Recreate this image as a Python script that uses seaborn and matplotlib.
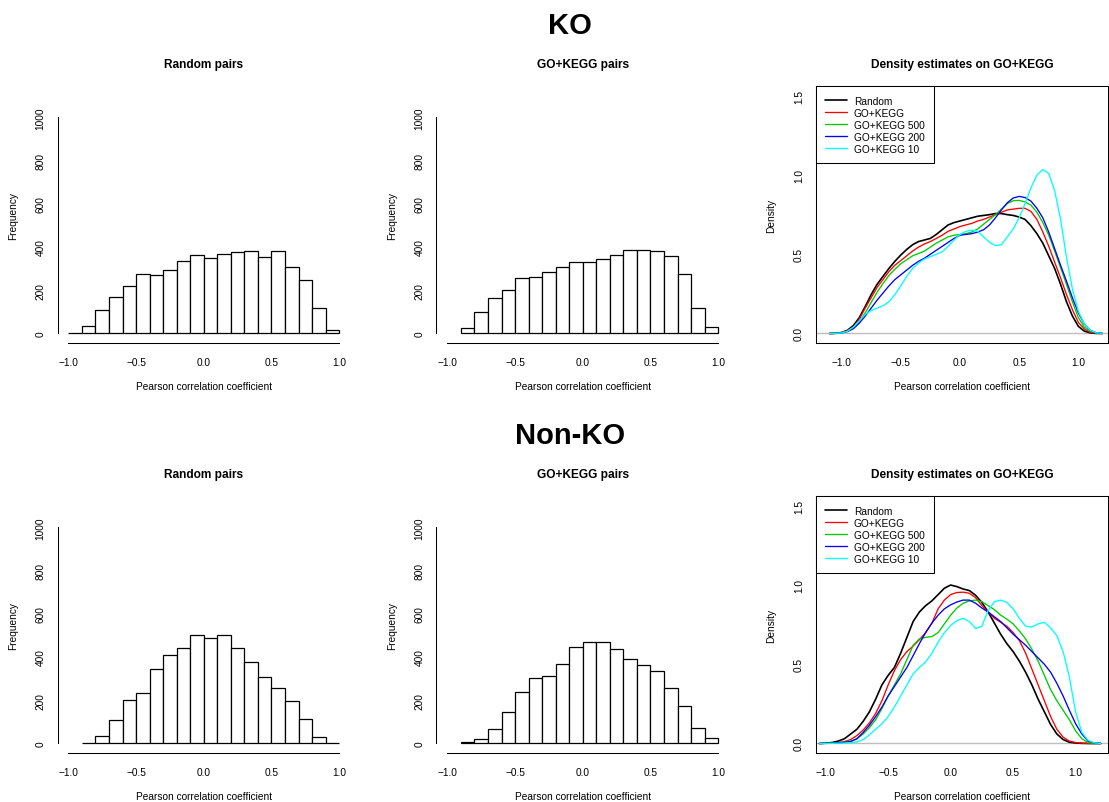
import matplotlib
matplotlib.use("Agg")
import matplotlib.pyplot as plt
import seaborn as sns

# ---------------- data ----------------
ROW_TITLES = ["KO", "Non-KO"]
HIST_TITLES = ["Random pairs", "GO+KEGG pairs"]
DENS_TITLE = "Density estimates on GO+KEGG"
X_LABEL = "Pearson correlation coefficient"

X_TICKS = [-1.0, -0.5, 0.0, 0.5, 1.0]
X_TICK_LABELS = ["\u22121.0", "\u22120.5", "0.0", "0.5", "1.0"]
HIST_Y_TICKS = [0, 200, 400, 600, 800, 1000]
HIST_Y_LABELS = ["0", "200", "400", "600", "800", "1000"]
DENS_Y_TICKS = [0.0, 0.5, 1.0, 1.5]
DENS_Y_LABELS = ["0.0", "0.5", "1.0", "1.5"]

breaks_ko_random = [-1.0, -0.9, -0.8, -0.7, -0.6, -0.5, -0.4, -0.3, -0.2, -0.1, 0.0,
                    0.1, 0.2, 0.3, 0.4, 0.5, 0.6, 0.7, 0.8, 0.9, 1.0]
counts_ko_random = [2, 36, 107, 168, 221, 274, 272, 294, 337, 362, 351, 369, 376, 383,
                    355, 380, 306, 246, 120, 14]

breaks_ko_gk = [-0.9, -0.8, -0.7, -0.6, -0.5, -0.4, -0.3, -0.2, -0.1, 0.0,
                0.1, 0.2, 0.3, 0.4, 0.5, 0.6, 0.7, 0.8, 0.9, 1.0]
counts_ko_gk = [26, 101, 163, 199, 255, 260, 285, 308, 330, 331, 347, 365, 386, 386,
                381, 359, 275, 117, 31]

breaks_nko_random = [-0.9, -0.8, -0.7, -0.6, -0.5, -0.4, -0.3, -0.2, -0.1, 0.0,
                     0.1, 0.2, 0.3, 0.4, 0.5, 0.6, 0.7, 0.8, 0.9, 1.0]
counts_nko_random = [3, 36, 109, 200, 234, 343, 408, 441, 503, 488, 500, 444, 379, 307,
                     256, 196, 115, 28, 1]

breaks_nko_gk = [-0.9, -0.8, -0.7, -0.6, -0.5, -0.4, -0.3, -0.2, -0.1, 0.0,
                 0.1, 0.2, 0.3, 0.4, 0.5, 0.6, 0.7, 0.8, 0.9, 1.0]
counts_nko_gk = [5, 23, 68, 144, 238, 303, 311, 366, 447, 469, 469, 436, 393, 363,
                 335, 258, 172, 70, 25]

SERIES = ["Random", "GO+KEGG", "GO+KEGG 500", "GO+KEGG 200", "GO+KEGG 10"]

x_ko = [-1.10, -1.05, -1.00, -0.95, -0.90, -0.85, -0.80, -0.75, -0.70, -0.65, -0.60,
        -0.55, -0.50, -0.45, -0.40, -0.35, -0.30, -0.25, -0.20, -0.15, -0.10, -0.05,
        0.00, 0.05, 0.10, 0.15, 0.20, 0.25, 0.30, 0.35, 0.40, 0.45, 0.50, 0.55, 0.60,
        0.65, 0.70, 0.75, 0.80, 0.85, 0.90, 0.95, 1.00, 1.05, 1.10, 1.15, 1.20]
ko_random = [0.000, 0.001, 0.006, 0.02, 0.05, 0.10, 0.17, 0.245, 0.31, 0.36, 0.41,
             0.455, 0.495, 0.53, 0.56, 0.58, 0.59, 0.60, 0.625, 0.655, 0.685, 0.70,
             0.71, 0.72, 0.73, 0.74, 0.745, 0.75, 0.757, 0.757, 0.75, 0.745, 0.735,
             0.72, 0.68, 0.63, 0.57, 0.49, 0.41, 0.31, 0.20, 0.11, 0.045, 0.015,
             0.004, 0.001, 0.000]
ko_gk = [0.000, 0.001, 0.005, 0.017, 0.04, 0.09, 0.16, 0.225, 0.29, 0.34, 0.39,
         0.43, 0.46, 0.49, 0.52, 0.545, 0.565, 0.58, 0.60, 0.62, 0.645, 0.66,
         0.675, 0.685, 0.695, 0.71, 0.72, 0.735, 0.75, 0.765, 0.78, 0.785, 0.79,
         0.79, 0.77, 0.72, 0.64, 0.55, 0.45, 0.35, 0.245, 0.15, 0.07, 0.028,
         0.008, 0.002, 0.000]
ko_gk500 = [0.000, 0.001, 0.004, 0.014, 0.035, 0.075, 0.13, 0.195, 0.26, 0.315, 0.366,
            0.405, 0.44, 0.465, 0.49, 0.505, 0.52, 0.545, 0.57, 0.59, 0.61, 0.62,
            0.625, 0.63, 0.64, 0.66, 0.69, 0.72, 0.75, 0.785, 0.82, 0.838, 0.84,
            0.83, 0.81, 0.765, 0.70, 0.62, 0.52, 0.415, 0.31, 0.20, 0.10, 0.04,
            0.015, 0.004, 0.000]
ko_gk200 = [0.000, 0.001, 0.003, 0.012, 0.03, 0.065, 0.11, 0.16, 0.21, 0.255, 0.30,
            0.34, 0.37, 0.40, 0.43, 0.455, 0.475, 0.50, 0.525, 0.55, 0.575, 0.60,
            0.62, 0.625, 0.63, 0.64, 0.655, 0.685, 0.73, 0.78, 0.825, 0.855, 0.865,
            0.858, 0.835, 0.79, 0.73, 0.64, 0.535, 0.43, 0.33, 0.225, 0.13, 0.06,
            0.02, 0.005, 0.000]
ko_gk10 = [0.000, 0.001, 0.003, 0.014, 0.04, 0.08, 0.12, 0.145, 0.16, 0.175, 0.20,
           0.245, 0.30, 0.36, 0.41, 0.445, 0.47, 0.485, 0.50, 0.515, 0.55, 0.59,
           0.625, 0.645, 0.652, 0.645, 0.61, 0.575, 0.555, 0.56, 0.61, 0.66, 0.73,
           0.82, 0.92, 1.00, 1.035, 1.01, 0.90, 0.72, 0.48, 0.28, 0.14, 0.06,
           0.02, 0.005, 0.000]

x_nko = [-1.05, -1.00, -0.95, -0.90, -0.85, -0.80, -0.75, -0.70, -0.65, -0.60, -0.55,
         -0.50, -0.45, -0.40, -0.35, -0.30, -0.25, -0.20, -0.15, -0.10, -0.05,
         0.00, 0.05, 0.10, 0.15, 0.20, 0.25, 0.30, 0.35, 0.40, 0.45, 0.50, 0.55, 0.60,
         0.65, 0.70, 0.75, 0.80, 0.85, 0.90, 0.95, 1.00, 1.05, 1.10, 1.15, 1.20]
nko_random = [0.000, 0.002, 0.006, 0.015, 0.03, 0.06, 0.09, 0.14, 0.20, 0.28, 0.37,
              0.43, 0.48, 0.57, 0.67, 0.77, 0.83, 0.87, 0.90, 0.94, 0.98,
              1.00, 0.99, 0.975, 0.965, 0.935, 0.89, 0.83, 0.76, 0.69, 0.63, 0.58,
              0.52, 0.45, 0.37, 0.28, 0.20, 0.12, 0.06, 0.025, 0.008, 0.003, 0.001,
              0.000, 0.000, 0.000]
nko_gk = [0.000, 0.001, 0.003, 0.006, 0.012, 0.025, 0.05, 0.085, 0.13, 0.19, 0.27,
          0.37, 0.46, 0.53, 0.58, 0.615, 0.655, 0.70, 0.76, 0.85, 0.905,
          0.94, 0.953, 0.955, 0.948, 0.92, 0.87, 0.83, 0.79, 0.765, 0.74, 0.70,
          0.65, 0.57, 0.47, 0.37, 0.27, 0.17, 0.09, 0.04, 0.015, 0.006, 0.002,
          0.001, 0.000, 0.000]
nko_gk500 = [0.000, 0.001, 0.002, 0.004, 0.008, 0.015, 0.03, 0.06, 0.10, 0.15, 0.22,
             0.30, 0.37, 0.44, 0.53, 0.62, 0.66, 0.67, 0.675, 0.70, 0.755,
             0.81, 0.855, 0.885, 0.90, 0.905, 0.895, 0.87, 0.845, 0.81, 0.785, 0.755,
             0.71, 0.66, 0.595, 0.52, 0.43, 0.34, 0.27, 0.21, 0.15, 0.08, 0.03,
             0.006, 0.001, 0.000]
nko_gk200 = [0.000, 0.001, 0.002, 0.004, 0.007, 0.012, 0.03, 0.07, 0.115, 0.17, 0.23,
             0.30, 0.36, 0.42, 0.48, 0.555, 0.63, 0.70, 0.76, 0.81, 0.85,
             0.875, 0.893, 0.905, 0.905, 0.885, 0.855, 0.83, 0.80, 0.77, 0.73, 0.69,
             0.655, 0.62, 0.58, 0.54, 0.50, 0.45, 0.38, 0.30, 0.21, 0.125, 0.06,
             0.015, 0.004, 0.000]
nko_gk10 = [0.000, 0.000, 0.001, 0.002, 0.003, 0.005, 0.01, 0.025, 0.055, 0.09, 0.125,
            0.17, 0.23, 0.30, 0.37, 0.44, 0.48, 0.515, 0.57, 0.64, 0.70,
            0.745, 0.775, 0.79, 0.77, 0.725, 0.74, 0.84, 0.895, 0.905, 0.89, 0.85,
            0.79, 0.74, 0.735, 0.755, 0.765, 0.73, 0.68, 0.58, 0.42, 0.20, 0.07,
            0.02, 0.004, 0.000]

COLORS = ["black", "#FF0000", "#00CD00", "#0000FF", "#00FFFF"]
WIDTHS = [1.2, 0.95, 0.95, 0.95, 0.95]

# ---------------- style ----------------
sns.set_style("white")
plt.rcParams["font.family"] = ["Liberation Sans", "DejaVu Sans"]
plt.rcParams["axes.unicode_minus"] = True
plt.rcParams["text.color"] = "black"
plt.rcParams["axes.labelcolor"] = "black"
plt.rcParams["xtick.color"] = "black"
plt.rcParams["ytick.color"] = "black"

W, H = 1109, 803
fig = plt.figure(figsize=(W / 100, H / 100), dpi=100)

FS = 7.3
COL_LEFT = [57.5, 436.5, 815.7]
PW, PH = 292.5, 256.7
ROW_TOP = [87.3, 497.3]


def make_ax(col, row):
    l = COL_LEFT[col] / W
    b = 1 - (ROW_TOP[row] + PH) / H
    return fig.add_axes([l, b, PW / W, PH / H])


def common(ax, ylabel):
    ax.tick_params(direction="out", length=4, width=0.75, labelsize=FS,
                   colors="black", labelcolor="black")
    ax.tick_params(axis="x", pad=6.0)
    ax.tick_params(axis="y", pad=4.5)
    ax.set_xticks(X_TICKS)
    ax.set_xticklabels(X_TICK_LABELS)
    ax.set_xlabel(X_LABEL, fontsize=FS, color="black")
    ax.xaxis.set_label_coords(0.5, (ROW_TOP[0] + PH - 387) / PH)
    ax.xaxis.label.set_va("center")
    ax.set_ylabel(ylabel, fontsize=FS, color="black")
    ax.yaxis.set_label_coords((13.3 - 57.5) / PW, 0.5)
    ax.yaxis.label.set_va("center")
    for s in ax.spines.values():
        s.set_linewidth(0.75)
        s.set_color("black")


def draw_hist(ax, breaks, counts):
    mids = [(a + b) / 2 for a, b in zip(breaks[:-1], breaks[1:])]
    sns.histplot(x=mids, weights=counts, bins=breaks, ax=ax, color="white",
                 edgecolor="black", linewidth=0.9, alpha=1.0)
    ax.set_xlim(-1.08, 1.08)
    ax.set_ylim(-44, 1144)
    ax.spines["top"].set_visible(False)
    ax.spines["right"].set_visible(False)
    common(ax, "Frequency")
    ax.spines["left"].set_bounds(0, 1000)
    ax.spines["bottom"].set_bounds(-1, 1)
    ax.set_yticks(HIST_Y_TICKS)
    ax.set_yticklabels(HIST_Y_LABELS, rotation=90, va="center")


def draw_density(ax, xgrid, curves, xlim):
    ax.axhline(0, color="#BEBEBE", lw=1.0, zorder=1)
    for name, vals, color, lw in zip(SERIES, curves, COLORS, WIDTHS):
        sns.lineplot(x=xgrid, y=vals, ax=ax, color=color, linewidth=lw, label=name)
    ax.set_xlim(*xlim)
    ax.set_ylim(-0.06, 1.56)
    common(ax, "Density")
    ax.set_yticks(DENS_Y_TICKS)
    ax.set_yticklabels(DENS_Y_LABELS, rotation=90, va="center")
    leg = ax.legend(loc="upper left", bbox_to_anchor=(0, 1), borderaxespad=0,
                    frameon=True, fancybox=False, edgecolor="black", framealpha=1,
                    fontsize=FS, handlelength=2.16, handletextpad=0.66,
                    borderpad=0.95, labelspacing=0.19)
    leg.get_frame().set_linewidth(0.75)
    for t in leg.get_texts():
        t.set_color("black")


rows = [
    (breaks_ko_random, counts_ko_random, breaks_ko_gk, counts_ko_gk,
     x_ko, [ko_random, ko_gk, ko_gk500, ko_gk200, ko_gk10], (-1.218, 1.252)),
    (breaks_nko_random, counts_nko_random, breaks_nko_gk, counts_nko_gk,
     x_nko, [nko_random, nko_gk, nko_gk500, nko_gk200, nko_gk10], (-1.08, 1.261)),
]

for r, (br1, c1, br2, c2, xg, curves, xlim) in enumerate(rows):
    ax1 = make_ax(0, r)
    draw_hist(ax1, br1, c1)
    ax2 = make_ax(1, r)
    draw_hist(ax2, br2, c2)
    ax3 = make_ax(2, r)
    draw_density(ax3, xg, curves, xlim)
    titles = [HIST_TITLES[0], HIST_TITLES[1], DENS_TITLE]
    for c in range(3):
        fig.text((COL_LEFT[c] + PW / 2) / W, 1 - (ROW_TOP[r] - 22.5) / H, titles[c],
                 ha="center", va="center", fontsize=8.6, weight="bold", color="black")
    fig.text(570 / W, 1 - (26 + 410 * r) / H, ROW_TITLES[r], ha="center", va="center",
             fontsize=21, weight="bold", color="black")

fig.savefig("out.png", dpi=100, facecolor="white")
